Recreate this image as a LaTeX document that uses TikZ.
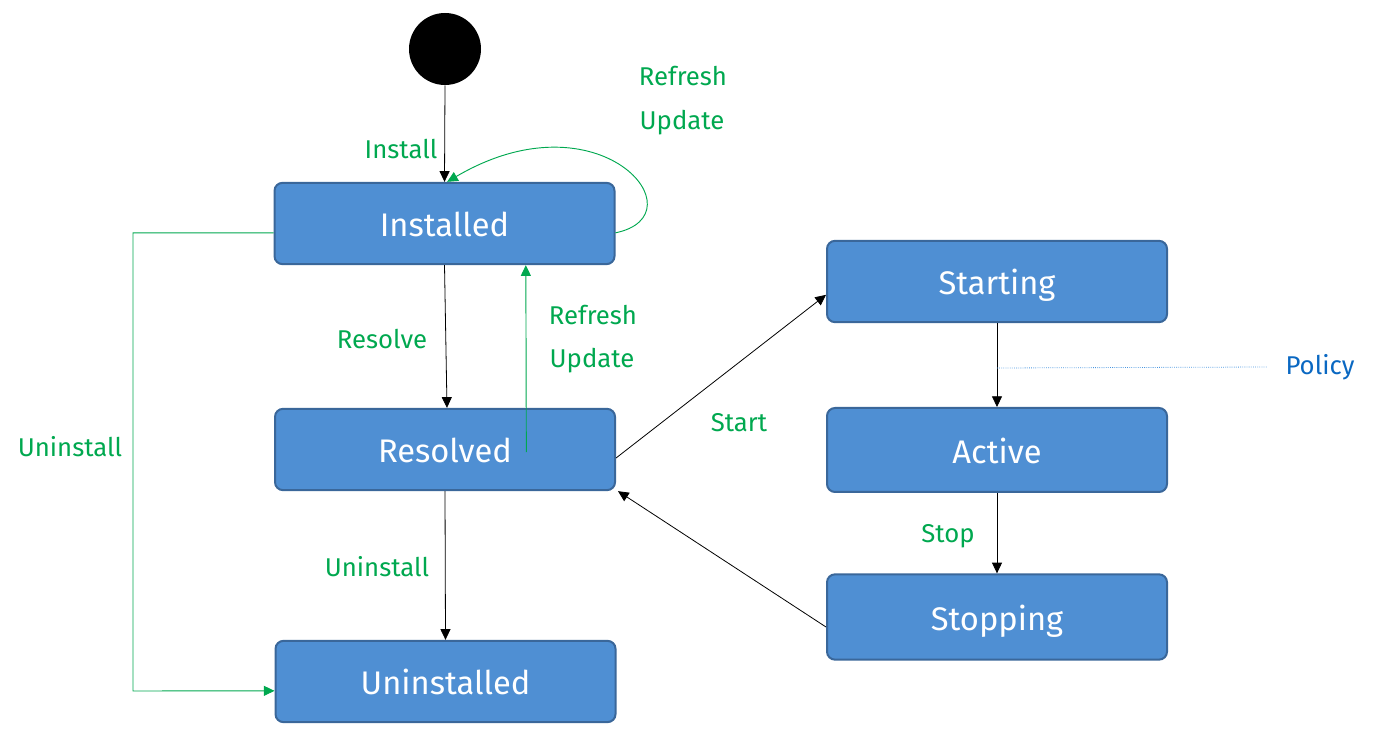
\documentclass[tikz,border=0pt]{standalone}
\usepackage{fontspec}
\setmainfont{Fira Sans}
\usetikzlibrary{arrows.meta}
\definecolor{boxfill}{HTML}{4F8FD3}
\definecolor{boxline}{HTML}{3A679A}
\definecolor{lblgreen}{HTML}{00A84F}
\definecolor{polblue}{HTML}{0A68C2}
\definecolor{polline}{HTML}{4A96E0}
\tikzset{
  state/.style={draw=boxline, line width=1.5pt, fill=boxfill, rounded corners=6pt,
    minimum width=255pt, minimum height=61pt, inner sep=0pt, text=white,
    text height=21pt, text depth=1pt,
    font=\fontsize{24.5}{28}\selectfont},
  lbl/.style={text=lblgreen, font=\fontsize{19.3}{22}\selectfont, inner sep=0pt},
  blk/.style={draw=black, line width=0.6pt, -{Triangle[length=8pt,width=7.5pt]}},
  grn/.style={draw=lblgreen, line width=0.7pt, -{Triangle[length=8pt,width=7.5pt]}}
}
\begin{document}
\begin{tikzpicture}[x=0.75pt,y=-0.75pt]
\useasboundingbox (0,0) rectangle (1379,748);
\node[circle, fill=black, minimum size=54pt, inner sep=0pt] (init) at (445,49) {};
\node[state] (installed) at (444.5,223.5) {Installed};
\node[state] (resolved) at (445,449.5) {Resolved};
\node[state] (uninstalled) at (445.5,681.5) {Uninstalled};
\node[state] (starting) at (997,281.5) {Starting};
\node[state, minimum height=63pt] (active) at (997,450) {Active};
\node[state, minimum height=64pt] (stopping) at (997,617) {Stopping};

\node[lbl] (linstall) at (401,149) {Install};
\node[lbl] (lrefresh1) at (683,76) {Refresh};
\node[lbl] (lupdate1) at (682,123) {Update};
\node[lbl] (lresolve) at (382,339) {Resolve};
\node[lbl] (lrefresh2) at (593,315) {Refresh};
\node[lbl] (lupdate2) at (592,361) {Update};
\node[lbl] (luninst1) at (70,447) {Uninstall};
\node[lbl] (luninst2) at (377,567) {Uninstall};
\node[lbl] (lstart) at (739,423) {Start};
\node[lbl] (lstop) at (948,536) {Stop};
\node[text=polblue, font=\fontsize{19.3}{22}\selectfont, inner sep=0pt] (lpolicy) at (1320,367) {Policy};

\draw[blk] (init.south) -- (installed.north);
\draw[grn] ([yshift=-7pt]installed.east) .. controls (702,215) and (600,92) .. ([xshift=2pt]installed.north);
\draw[blk] (installed.south) -- ([xshift=1.5pt]resolved.north);
\draw[grn] ([xshift=61pt,yshift=-2pt]resolved.center) -- ([xshift=61pt]installed.south);
\draw[blk] (resolved.south) -- (uninstalled.south |- uninstalled.north);
\draw[grn] ([yshift=-7pt]installed.west) -| (133,691) -- ([yshift=-7pt]uninstalled.west);
\draw[blk] ([yshift=-6.4pt]resolved.east) -- ([yshift=-10pt]starting.west);
\draw[blk] (starting.south) -- (active.north);
\coordinate (pstart) at (997,368);
\draw[polline, line width=0.6pt, densely dotted] (pstart) -- ([xshift=-14pt]lpolicy.west);
\draw[blk] (active.south) -- (stopping.north);
\draw[blk] ([yshift=-7.5pt]stopping.west) -- ([xshift=1.5pt]resolved.south east);
\end{tikzpicture}
\end{document}
